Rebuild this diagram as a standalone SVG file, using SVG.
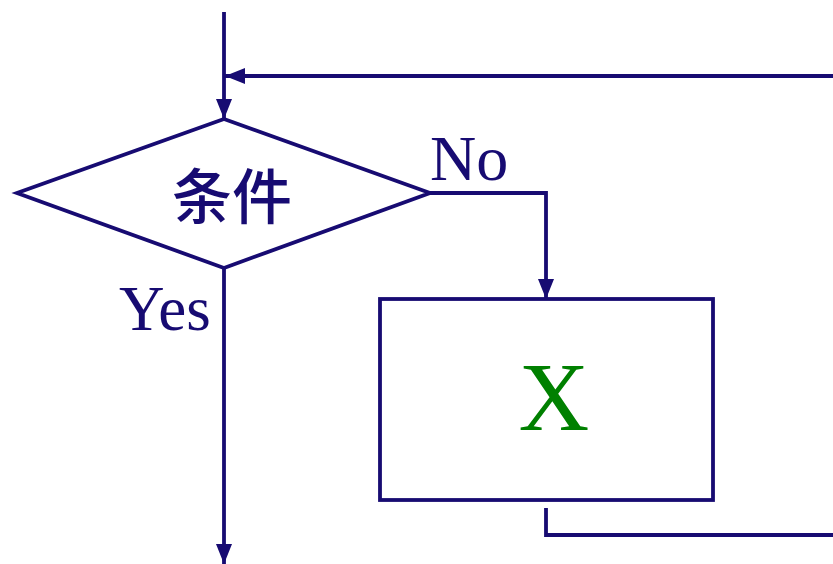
<svg xmlns="http://www.w3.org/2000/svg" width="833" height="564" viewBox="0 0 833 564">
<style>
.ln{fill:none;stroke:#170b72;stroke-width:3.8}
.sh{fill:#fff;stroke:#170b72;stroke-width:3.8}
.lbl{font-family:"Liberation Serif",serif;fill:#170b72}
</style>
<defs>
<marker id="ah" markerUnits="userSpaceOnUse" markerWidth="20" markerHeight="16" refX="20" refY="8" orient="auto" viewBox="0 0 20 16">
<path d="M0,0 L20,8 L0,16 Z" fill="#170b72"/>
</marker>
</defs>
<rect width="833" height="564" fill="#fff"/>
<g id="connectors">
<path class="ln" d="M224,12 V119" marker-end="url(#ah)"/>
<path class="ln" d="M833,76 H225" marker-end="url(#ah)"/>
<path class="ln" d="M430,193 H546 V299" marker-end="url(#ah)"/>
<path class="ln" d="M224,268 V564" marker-end="url(#ah)"/>
<path class="ln" d="M546,508 V535 H833"/>
</g>
<g id="condition">
<polygon class="sh" points="224,119 430,193 224,268 17,193"/>
<text x="232" y="219" text-anchor="middle" font-family="'Noto Sans CJK SC',sans-serif" font-size="60" font-weight="500" fill="#170b72">条件</text>
</g>
<g id="process">
<rect class="sh" x="380" y="299" width="333" height="201"/>
<text x="554" y="430" text-anchor="middle" font-family="'Liberation Serif',serif" font-size="98" fill="#008000">X</text>
</g>
<g id="labels">
<text class="lbl" x="430" y="180" font-size="64">No</text>
<text class="lbl" x="119" y="330" font-size="63">Yes</text>
</g>
</svg>
